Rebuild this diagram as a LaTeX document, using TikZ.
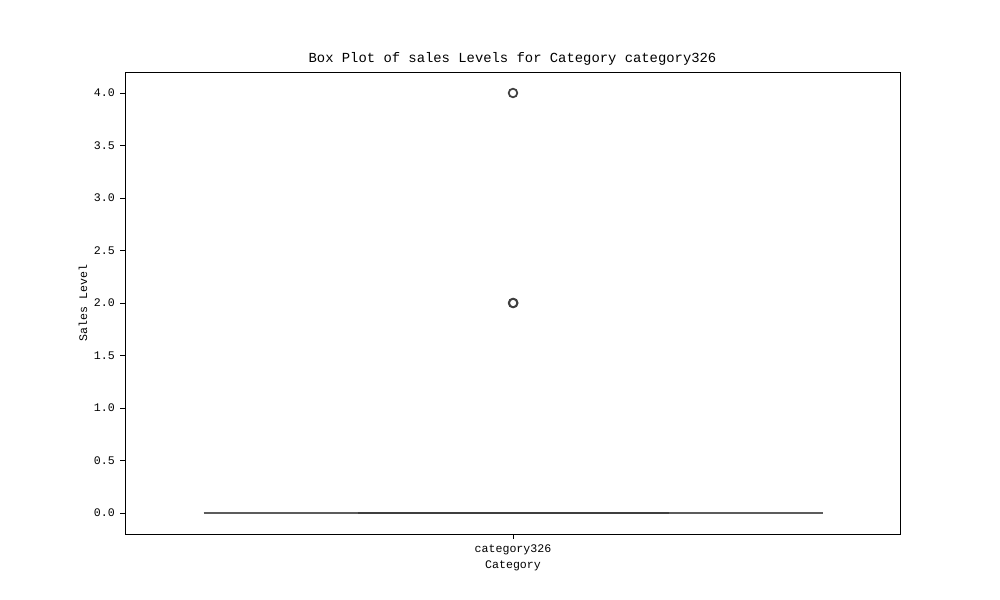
\documentclass[tikz,border=0pt]{standalone}
\usepackage{fontspec}
\newfontfamily\plotfont{Liberation Mono}
\definecolor{boxgray}{HTML}{3F3F3F}
\begin{document}
\begin{tikzpicture}[x=0.75pt,y=-0.75pt,
  spine/.style={draw=black,line width=0.75pt},
  tickmark/.style={draw=black,line width=0.6pt},
  ticklabel/.style={font=\plotfont\fontsize{8.7pt}{10pt}\selectfont,inner sep=0pt},
  axlabel/.style={font=\plotfont\fontsize{8.7pt}{10pt}\selectfont,inner sep=0pt},
  titlestyle/.style={font=\plotfont\fontsize{10.4pt}{12pt}\selectfont,inner sep=0pt},
  whisk/.style={draw=boxgray!85,line width=1.2pt},
  boxline/.style={draw=boxgray,line width=1.5pt},
  flier/.style={draw=boxgray,line width=1.3pt,fill=none}]
\useasboundingbox[fill=white] (0,0) rectangle (1000,600);
% axes frame
\draw[spine] (125,72) rectangle (900,534);
% y ticks
\foreach \v/\lab in {0/0.0,0.5/0.5,1/1.0,1.5/1.5,2/2.0,2.5/2.5,3/3.0,3.5/3.5,4/4.0}{
  \pgfmathsetmacro{\yy}{513-105*\v}
  \draw[tickmark] (125,\yy) -- (120.1,\yy);
  \node[ticklabel,anchor=east] (yt\lab) at (115,\yy) {\lab};
}
% x tick
\draw[tickmark] (513,534) -- (513,538.9);
\node[ticklabel,anchor=north] (xt) at (513,544) {category326};
% axis labels
\node[axlabel] (xlab) at (513,566) {Category};
\node[axlabel,rotate=90] (ylab) at (83,303) {Sales Level};
% title
\node[titlestyle] (title) at (512.5,59) {Box Plot of sales Levels for Category category326};
% box plot (degenerate at 0)
\draw[whisk] (203.5,513) -- (823,513);
\draw[boxline] (358,513) -- (669,513);
% outliers
\draw[flier] (513,93) circle (4.3);
\draw[flier] (513,303) circle (4.3);
\draw[flier] (513.3,303) circle (4.3);
\end{tikzpicture}
\end{document}
